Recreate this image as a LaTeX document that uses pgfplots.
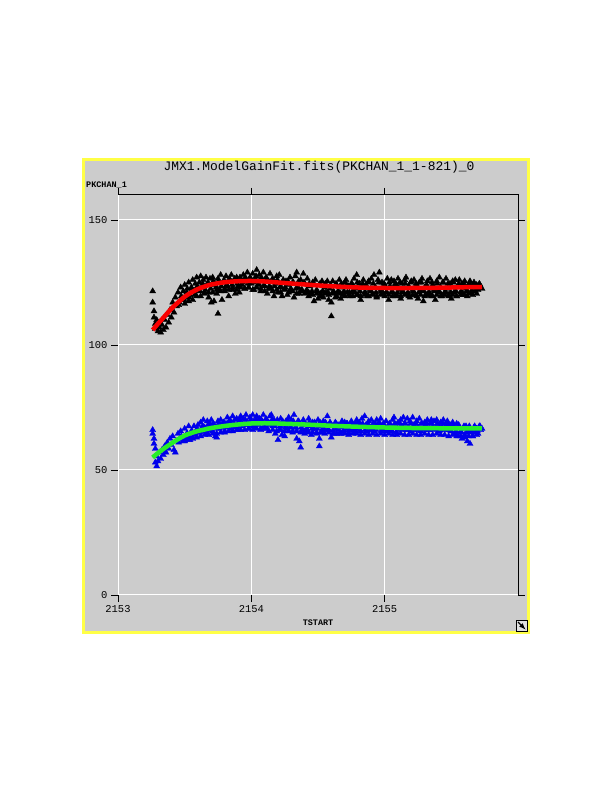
\documentclass[border=0pt]{standalone}
\usepackage{fontspec}
\setmonofont{Liberation Mono}
\usepackage{pgfplots}
\pgfplotsset{compat=1.18}
\definecolor{panel}{RGB}{204,204,204}
\definecolor{frame}{RGB}{255,255,70}
\definecolor{fitgreen}{RGB}{40,238,40}
\definecolor{ptblue}{RGB}{0,0,235}
\definecolor{fitred}{RGB}{250,0,0}

\begin{document}
\begin{tikzpicture}
\path[use as bounding box] (0,0) rectangle (612bp,792bp);
\fill[white] (0,0) rectangle (612bp,792bp);
\fill[panel] (83bp,159bp) rectangle (529bp,633bp);
\draw[frame, line width=3bp] (83.5bp,159.5bp) rectangle (528.5bp,632.5bp);
\begin{axis}[
  at={(118bp,197bp)}, anchor=south west,
  scale only axis, width=400bp, height=400bp,
  xmin=2153, xmax=2156, ymin=0, ymax=160,
  xtick={2153,2154,2155}, xticklabels={2153,2154,2155},
  ytick={0,50,100,150}, yticklabels={0,50,100,150},
  grid=major, major grid style={white, line width=1bp},
  axis line style={draw=none},
  tick pos=both, tick align=outside,
  major tick length=7bp,
  tick style={black, line width=0.8bp},
  ticklabel style={font=\ttfamily\fontsize{10.5}{10.5}\selectfont},
  clip=false, clip marker paths=true,
]
\draw[black, line width=1bp] (rel axis cs:0,1) -- (rel axis cs:1,1) -- (rel axis cs:1,0);

% black points
\addplot[only marks, mark=triangle*, mark size=3.5pt, black] coordinates {
(2153.26,121.5) (2153.26,117) (2153.27,113.5) (2153.27,111) (2153.28,108.5) (2153.28,106.5)
(2153.29,110) (2153.30,105.5) (2153.31,107) (2153.32,105) (2153.33,108) (2153.34,106)
(2153.35,110) (2153.36,107) (2153.37,112) (2153.38,109) (2153.39,114) (2153.40,111)
(2153.41,117) (2153.42,113) (2153.43,119) (2153.44,115.5) (2153.45,121) (2153.46,117)
(2153.47,123) (2153.48,118) (2153.49,121.5) (2153.50,124) (2153.51,119) (2153.52,122.5)
(2153.53,125) (2153.54,120) (2153.55,123) (2153.56,126) (2153.57,121.5) (2153.58,124.5)
(2153.59,127) (2153.60,122) (2153.61,125) (2153.62,127.5) (2153.63,123) (2153.64,126)
(2153.65,121) (2153.66,127) (2153.67,124) (2153.68,119) (2153.69,126.5) (2153.70,117)
(2153.71,127) (2153.72,117.5) (2153.73,124) (2153.74,120.5) (2153.75,126.5) (2153.75,112.5)
(2153.76,122) (2153.77,128) (2153.78,118) (2153.79,125) (2153.80,121.5) (2153.81,127.5)
(2153.82,123.5) (2153.83,119.5) (2153.84,126) (2153.85,128) (2153.86,122) (2153.87,125.5)
(2153.88,120.5) (2153.89,127) (2153.90,123.5) (2153.91,121) (2153.92,126.5) (2153.93,124)
(2153.94,128) (2153.95,122.5) (2153.96,126) (2153.97,129) (2153.98,123) (2153.99,127)
(2154.00,124.5) (2154.01,128.5) (2154.02,122) (2154.03,126.5) (2154.04,130) (2154.05,124)
(2154.06,128) (2154.07,121.5) (2154.08,126) (2154.09,129) (2154.10,123.5) (2154.11,127)
(2154.12,120.5) (2154.13,125.5) (2154.14,128.5) (2154.15,122.5) (2154.16,126.5) (2154.17,119.5)
(2154.18,124.5) (2154.19,127.5) (2154.20,121) (2154.21,128) (2154.22,123.5) (2154.23,119.5)
(2154.24,126) (2154.25,122.5) (2154.26,125.5) (2154.27,120) (2154.28,124) (2154.29,127)
(2154.30,121.5) (2154.31,125) (2154.32,119) (2154.33,127.5) (2154.34,129) (2154.35,123)
(2154.36,120.5) (2154.37,126) (2154.38,122) (2154.39,128.5) (2154.40,124.5) (2154.41,121)
(2154.42,126.5) (2154.43,119.5) (2154.44,123.5) (2154.45,120.5) (2154.46,125) (2154.47,117.5)
(2154.48,126) (2154.49,122) (2154.50,118.5) (2154.51,124) (2154.52,120.5) (2154.53,125.5)
(2154.54,119) (2154.55,123) (2154.56,121) (2154.57,125.5) (2154.58,118) (2154.59,122.5)
(2154.60,117) (2154.60,111.5) (2154.61,125.5) (2154.62,121) (2154.63,119) (2154.64,124)
(2154.65,121.5) (2154.66,126) (2154.67,118.5) (2154.68,123) (2154.69,120) (2154.70,125)
(2154.71,126) (2154.72,121) (2154.73,123.5) (2154.74,119.5) (2154.75,124.5) (2154.76,121.5)
(2154.77,126.5) (2154.78,122.5) (2154.79,128) (2154.80,120) (2154.81,124.5) (2154.82,118)
(2154.83,123) (2154.84,126) (2154.85,121) (2154.86,124) (2154.87,119.5) (2154.88,125.5)
(2154.89,122) (2154.90,126.5) (2154.91,120.5) (2154.92,128) (2154.93,123) (2154.94,119)
(2154.95,126) (2154.96,129) (2154.97,122) (2154.98,125) (2154.99,120.5) (2155.00,124)
(2155.01,121) (2155.02,126.5) (2155.03,118) (2155.04,123.5) (2155.05,126) (2155.06,121)
(2155.07,125.5) (2155.08,119.5) (2155.09,124) (2155.10,126.5) (2155.11,122) (2155.12,118.5)
(2155.13,124.5) (2155.14,121) (2155.15,126) (2155.16,127) (2155.17,120.5) (2155.18,123.5)
(2155.19,119) (2155.20,125.5) (2155.21,122) (2155.22,126) (2155.23,120) (2155.24,124)
(2155.25,118.5) (2155.26,125) (2155.27,121.5) (2155.28,126.5) (2155.29,117.5) (2155.30,123)
(2155.31,120) (2155.32,125.5) (2155.33,121) (2155.34,126.5) (2155.35,119.5) (2155.36,124)
(2155.37,122) (2155.38,118) (2155.39,125.5) (2155.40,121.5) (2155.41,127) (2155.42,123)
(2155.43,119.5) (2155.44,125) (2155.45,121) (2155.46,126.5) (2155.47,122.5) (2155.48,120)
(2155.49,124.5) (2155.50,118.5) (2155.51,125.5) (2155.52,121) (2155.53,126) (2155.54,119.5)
(2155.55,123.5) (2155.56,126) (2155.57,121) (2155.58,124.5) (2155.59,120) (2155.60,125.5)
(2155.61,122.5) (2155.62,119.5) (2155.63,124) (2155.64,125.5) (2155.65,121) (2155.66,123.5)
(2155.67,125) (2155.68,121.5) (2155.69,124) (2155.70,122) (2155.71,124.5) (2155.72,123)
(2155.73,122.5)
(2153.455,116) (2153.475,119.5) (2153.495,118) (2153.515,121) (2153.535,119) (2153.555,122.5)
(2153.575,120) (2153.595,123.5) (2153.615,121.5) (2153.635,124.5) (2153.655,122) (2153.675,125)
(2153.695,122.5) (2153.715,125.5) (2153.735,123) (2153.755,125.5) (2153.775,123.5) (2153.795,126)
(2153.815,124) (2153.835,126.5) (2153.855,124) (2153.875,126.5) (2153.895,124.5) (2153.915,127)
(2153.935,125) (2153.955,127) (2153.975,124.5) (2153.995,126.5) (2154.015,125) (2154.035,127.5)
(2154.055,124.5) (2154.075,127) (2154.095,124) (2154.115,126.5) (2154.135,123.5) (2154.155,126)
(2154.175,123.5) (2154.195,126) (2154.215,123) (2154.235,125.5) (2154.255,123) (2154.275,125.5)
(2154.295,122.5) (2154.315,125) (2154.335,122.5) (2154.355,125.5) (2154.375,122) (2154.395,125)
(2154.415,122) (2154.435,124.5) (2154.455,121.5) (2154.475,124) (2154.495,121.5) (2154.515,124.5)
(2154.535,121.5) (2154.555,124.5) (2154.575,121) (2154.595,124) (2154.615,121.5) (2154.635,124.5)
(2154.655,121) (2154.675,124.5) (2154.695,121.5) (2154.715,124) (2154.735,121) (2154.755,124.5)
(2154.775,121) (2154.795,125) (2154.815,121.5) (2154.835,124.5) (2154.855,121) (2154.875,125)
(2154.895,121.5) (2154.915,124.5) (2154.935,121) (2154.955,125) (2154.975,121.5) (2154.995,124.5)
(2155.015,121) (2155.035,125) (2155.055,121.5) (2155.075,124) (2155.095,121) (2155.115,125)
(2155.135,121.5) (2155.155,124.5) (2155.175,121) (2155.195,125) (2155.215,121.5) (2155.235,124.5)
(2155.255,121) (2155.275,125) (2155.295,121.5) (2155.315,124) (2155.335,121) (2155.355,125)
(2155.375,121.5) (2155.395,124.5) (2155.415,121) (2155.435,125) (2155.455,121.5) (2155.475,124.5)
(2155.495,121) (2155.515,125) (2155.535,121.5) (2155.555,124.5) (2155.575,121.5) (2155.595,124.5)
(2155.615,121.5) (2155.635,124.5) (2155.655,122) (2155.675,124) (2155.695,122.5) (2155.715,124)
(2153.50,116.5) (2153.53,117.5) (2153.56,118) (2153.59,119.5) (2153.62,119.5) (2153.65,120.5)
(2153.68,121) (2153.71,121) (2153.74,122) (2153.77,121.5) (2153.80,122.5) (2153.83,122)
(2153.86,123) (2153.89,122) (2153.92,123) (2153.95,122.5) (2153.98,123) (2154.01,122)
(2154.04,123) (2154.07,122.5) (2154.10,121.5) (2154.13,122.5) (2154.16,121.5) (2154.19,122)
(2154.22,121) (2154.25,122) (2154.28,121) (2154.31,121.5) (2154.34,120.5) (2154.37,121.5)
(2154.40,120.5) (2154.43,121) (2154.46,120) (2154.49,120.5) (2154.52,119.5) (2154.55,120.5)
(2154.58,120) (2154.61,120.5) (2154.64,119.5) (2154.67,120.5) (2154.70,119.5) (2154.73,120)
(2154.76,119.5) (2154.79,120) (2154.82,119.5) (2154.85,120) (2154.88,119.5) (2154.91,120)
(2154.94,119.5) (2154.97,120) (2155.00,119.5) (2155.03,120) (2155.06,119.5) (2155.09,120)
(2155.12,119.5) (2155.15,120) (2155.18,119.5) (2155.21,120) (2155.24,119.5) (2155.27,120)
(2155.30,119.5) (2155.33,120) (2155.36,119.5) (2155.39,120) (2155.42,119.5) (2155.45,120)
(2155.48,119.5) (2155.51,120) (2155.54,119.5) (2155.57,120) (2155.60,120) (2155.63,120.5)
(2155.66,120) (2155.69,120.5)
};

% red fit
\addplot[fitred, line width=4.5bp, smooth] coordinates {
(2153.26,106) (2153.30,108.5) (2153.35,111.5) (2153.40,114.5) (2153.45,117) (2153.50,119.3)
(2153.55,121) (2153.60,122.4) (2153.65,123.4) (2153.70,124.2) (2153.80,125.1) (2153.90,125.5)
(2154.00,125.6) (2154.10,125.4) (2154.20,125.0) (2154.40,124.2) (2154.60,123.5) (2154.80,123.0)
(2155.00,122.8) (2155.20,122.8) (2155.40,122.9) (2155.60,123.1) (2155.73,123.2)
};

% blue points
\addplot[only marks, mark=triangle*, mark size=3.5pt, ptblue] coordinates {
(2153.26,66) (2153.26,64.5) (2153.27,62.5) (2153.27,60.5) (2153.28,58.5) (2153.28,53)
(2153.29,51.5) (2153.29,55.5) (2153.30,53.5) (2153.31,57) (2153.32,54.5) (2153.33,58)
(2153.34,56) (2153.35,59.5) (2153.36,57) (2153.37,61) (2153.38,58.5) (2153.39,62.5)
(2153.40,60) (2153.41,63.5) (2153.42,58) (2153.43,57) (2153.44,61.5) (2153.45,64.5)
(2153.46,62) (2153.47,65.5) (2153.48,63) (2153.49,61.5) (2153.50,66.5) (2153.51,62.5)
(2153.52,64.5) (2153.53,67.5) (2153.54,62) (2153.55,65.5) (2153.56,63) (2153.57,67.5)
(2153.58,64.5) (2153.59,66) (2153.60,68) (2153.61,65) (2153.62,69) (2153.63,66.5)
(2153.64,70) (2153.65,67) (2153.66,64.5) (2153.67,69.5) (2153.68,66) (2153.69,68.5)
(2153.70,70) (2153.71,65.5) (2153.72,68) (2153.73,63.5) (2153.74,63) (2153.75,69.5)
(2153.76,66.5) (2153.77,70) (2153.78,67) (2153.79,69) (2153.80,65.5) (2153.81,68.5)
(2153.82,71) (2153.83,67.5) (2153.84,70) (2153.85,66.5) (2153.86,71.5) (2153.87,68.5)
(2153.88,67) (2153.89,70.5) (2153.90,66) (2153.91,69.5) (2153.92,71.5) (2153.93,67.5)
(2153.94,70.5) (2153.95,68) (2153.96,72) (2153.97,69) (2153.98,66.5) (2153.99,71)
(2154.00,68) (2154.01,72) (2154.02,69.5) (2154.03,67) (2154.04,71.5) (2154.05,68.5)
(2154.06,70.5) (2154.07,66.5) (2154.08,69.5) (2154.09,72) (2154.10,68) (2154.11,70.5)
(2154.12,66.5) (2154.13,69) (2154.14,71.5) (2154.15,72) (2154.16,67.5) (2154.17,70)
(2154.18,64.5) (2154.19,68.5) (2154.20,62) (2154.21,66) (2154.22,70.5) (2154.23,64)
(2154.24,68) (2154.25,63.5) (2154.26,69.5) (2154.27,66.5) (2154.28,71) (2154.29,68)
(2154.30,70) (2154.31,65.5) (2154.32,72) (2154.33,67) (2154.34,62.5) (2154.35,69.5)
(2154.36,61.5) (2154.37,59) (2154.38,66) (2154.39,70) (2154.40,64.5) (2154.41,68)
(2154.42,66) (2154.43,70.5) (2154.44,67.5) (2154.45,64) (2154.46,69) (2154.47,66.5)
(2154.48,68.5) (2154.49,65) (2154.50,70) (2154.51,59.5) (2154.51,62.5) (2154.52,67.5)
(2154.53,65) (2154.54,69.5) (2154.55,66) (2154.56,68.5) (2154.57,71.5) (2154.58,66)
(2154.59,69) (2154.60,63) (2154.61,67.5) (2154.62,64.5) (2154.63,69) (2154.64,66.5)
(2154.65,68) (2154.66,64.5) (2154.67,67) (2154.68,69.5) (2154.69,65.5) (2154.70,69)
(2154.71,66.5) (2154.72,68.5) (2154.73,65) (2154.74,67.5) (2154.75,69.5) (2154.76,66)
(2154.77,65) (2154.78,68.5) (2154.79,70) (2154.80,66.5) (2154.81,69) (2154.82,65.5)
(2154.83,70.5) (2154.84,67.5) (2154.85,71.5) (2154.86,68) (2154.87,65.5) (2154.88,69.5)
(2154.89,67) (2154.90,70) (2154.91,66) (2154.92,65.5) (2154.93,68.5) (2154.94,70)
(2154.95,67) (2154.96,69) (2154.97,70.5) (2154.98,66.5) (2154.99,68.5) (2155.00,66)
(2155.01,69.5) (2155.02,67) (2155.03,65.5) (2155.04,68.5) (2155.05,66) (2155.06,70)
(2155.07,71) (2155.08,67.5) (2155.09,65) (2155.10,69) (2155.11,66.5) (2155.12,70)
(2155.13,67.5) (2155.14,71) (2155.15,68.5) (2155.16,66) (2155.17,70.5) (2155.18,67)
(2155.19,69.5) (2155.20,65.5) (2155.21,71) (2155.22,68) (2155.23,66) (2155.24,69.5)
(2155.25,67) (2155.26,70.5) (2155.27,65.5) (2155.28,68.5) (2155.29,66.5) (2155.30,69)
(2155.31,67.5) (2155.32,70) (2155.33,66) (2155.34,68.5) (2155.35,70) (2155.36,67)
(2155.37,69.5) (2155.38,66.5) (2155.39,70) (2155.40,68) (2155.41,65.5) (2155.42,69)
(2155.43,67) (2155.44,70) (2155.45,66.5) (2155.46,68.5) (2155.47,69.5) (2155.48,66)
(2155.49,68) (2155.50,65.5) (2155.51,69) (2155.52,67) (2155.53,64.5) (2155.54,68.5)
(2155.55,63.5) (2155.56,67) (2155.57,65.5) (2155.58,62.5) (2155.59,66.5) (2155.60,64)
(2155.61,67.5) (2155.62,61.5) (2155.63,65.5) (2155.64,60.5) (2155.65,66) (2155.66,63.5)
(2155.67,67) (2155.68,65) (2155.69,66.5) (2155.70,64.5) (2155.71,67.5) (2155.72,66)
(2155.73,66.5)
(2153.455,61) (2153.475,63.5) (2153.495,62.5) (2153.515,64.5) (2153.535,63.5) (2153.555,65.5)
(2153.575,64) (2153.595,66.5) (2153.615,65) (2153.635,67.5) (2153.655,65.5) (2153.675,68)
(2153.695,66) (2153.715,68.5) (2153.735,66.5) (2153.755,68.5) (2153.775,67) (2153.795,69)
(2153.815,67) (2153.835,69.5) (2153.855,67.5) (2153.875,70) (2153.895,67.5) (2153.915,70)
(2153.935,68) (2153.955,70) (2153.975,68) (2153.995,70) (2154.015,67.5) (2154.035,70)
(2154.055,68) (2154.075,70) (2154.095,67.5) (2154.115,70) (2154.135,68) (2154.155,70)
(2154.175,67.5) (2154.195,70) (2154.215,67.5) (2154.235,69.5) (2154.255,67) (2154.275,69.5)
(2154.295,67) (2154.315,69.5) (2154.335,67) (2154.355,69.5) (2154.375,67) (2154.395,69)
(2154.415,66.5) (2154.435,69) (2154.455,66.5) (2154.475,69) (2154.495,66.5) (2154.515,69)
(2154.535,66.5) (2154.555,69) (2154.575,66.5) (2154.595,68.5) (2154.615,66) (2154.635,68.5)
(2154.655,66) (2154.675,68.5) (2154.695,66) (2154.715,68.5) (2154.735,66) (2154.755,68.5)
(2154.775,66) (2154.795,68.5) (2154.815,66) (2154.835,68.5) (2154.855,66) (2154.875,68.5)
(2154.895,66) (2154.915,68.5) (2154.935,66) (2154.955,68.5) (2154.975,65.5) (2154.995,68)
(2155.015,65.5) (2155.035,68.5) (2155.055,65.5) (2155.075,68.5) (2155.095,66) (2155.115,68.5)
(2155.135,66) (2155.155,68.5) (2155.175,66) (2155.195,68.5) (2155.215,66) (2155.235,68.5)
(2155.255,66) (2155.275,68.5) (2155.295,66) (2155.315,68.5) (2155.335,66) (2155.355,68.5)
(2155.375,66) (2155.395,68.5) (2155.415,66) (2155.435,68.5) (2155.455,66) (2155.475,68)
(2155.495,65.5) (2155.515,68) (2155.535,65.5) (2155.555,68) (2155.575,65) (2155.595,67.5)
(2155.615,65) (2155.635,67.5) (2155.655,65) (2155.675,67.5) (2155.695,65.5) (2155.715,67.5)
(2153.50,61.5) (2153.53,62) (2153.56,62.5) (2153.59,63) (2153.62,63.5) (2153.65,64)
(2153.68,64) (2153.71,64.5) (2153.74,64.5) (2153.77,65) (2153.80,65) (2153.83,65.5)
(2153.86,65.5) (2153.89,66) (2153.92,66) (2153.95,66) (2153.98,66.5) (2154.01,66)
(2154.04,66.5) (2154.07,66) (2154.10,66.5) (2154.13,65.5) (2154.16,66) (2154.19,65.5)
(2154.22,66) (2154.25,65.5) (2154.28,65.5) (2154.31,65) (2154.34,65.5) (2154.37,65)
(2154.40,65.5) (2154.43,65) (2154.46,65) (2154.49,64.5) (2154.52,65) (2154.55,64.5)
(2154.58,65) (2154.61,64.5) (2154.64,64.5) (2154.67,64.5) (2154.70,64.5) (2154.73,64)
(2154.76,64.5) (2154.79,64.5) (2154.82,64) (2154.85,64.5) (2154.88,64) (2154.91,64.5)
(2154.94,64) (2154.97,64.5) (2155.00,64) (2155.03,64.5) (2155.06,64) (2155.09,64)
(2155.12,64.5) (2155.15,64) (2155.18,64) (2155.21,64.5) (2155.24,64) (2155.27,64)
(2155.30,64.5) (2155.33,64) (2155.36,64) (2155.39,64.5) (2155.42,64) (2155.45,64)
(2155.48,63.5) (2155.51,64) (2155.54,63.5) (2155.57,63.5) (2155.60,63) (2155.63,63.5)
(2155.66,63.5) (2155.69,64)
};

% green fit
\addplot[fitgreen, line width=4.5bp, smooth] coordinates {
(2153.26,55) (2153.30,56.8) (2153.35,58.8) (2153.40,60.6) (2153.45,62.3) (2153.50,63.8)
(2153.55,64.8) (2153.60,65.6) (2153.65,66.2) (2153.70,66.8) (2153.80,67.6) (2153.90,68.2)
(2154.00,68.6) (2154.10,68.7) (2154.20,68.6) (2154.40,68.2) (2154.60,67.7) (2154.80,67.3)
(2155.00,67.0) (2155.20,66.8) (2155.40,66.7) (2155.73,66.6)
};
\end{axis}

\node[font=\ttfamily\fontsize{13}{13}\selectfont] at (319bp,625bp) {JMX1.ModelGainFit.fits(PKCHAN\_1\_1-821)\_0};
\node[font=\ttfamily\bfseries\fontsize{8.5}{8.5}\selectfont, anchor=west, inner sep=0pt] at (86bp,607bp) {PKCHAN\_1};
\node[font=\ttfamily\bfseries\fontsize{8.5}{8.5}\selectfont, inner sep=0pt] at (318bp,169bp) {TSTART};

% resize handle
\draw[black, fill=panel!60!white, line width=0.6bp] (516bp,161bp) rectangle (527bp,172bp);
\draw[black, line width=1.2bp, -latex] (518bp,170bp) -- (525.5bp,162.5bp);
\end{tikzpicture}
\end{document}
